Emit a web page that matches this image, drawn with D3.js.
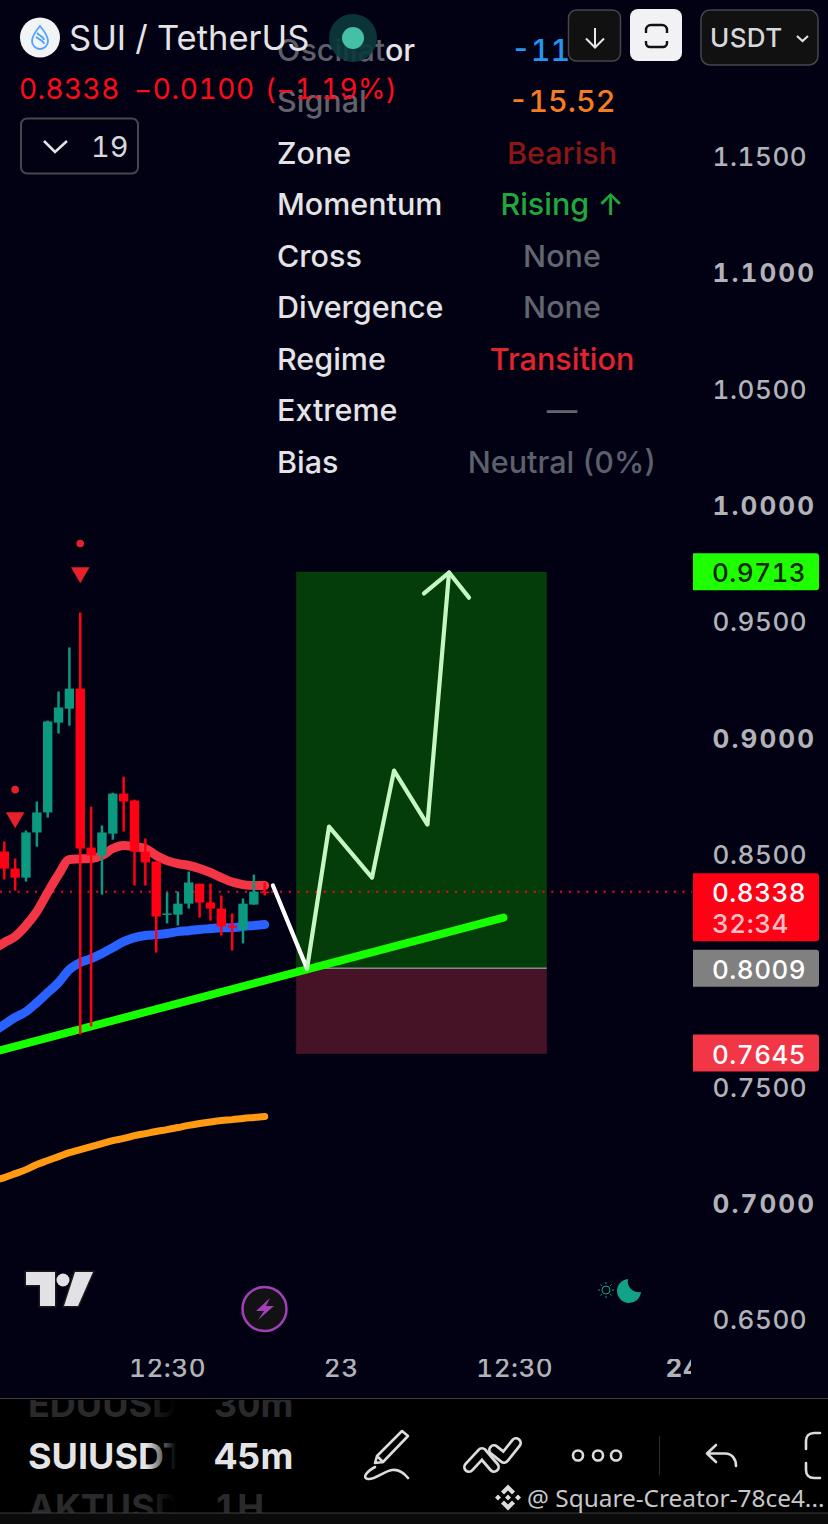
<!DOCTYPE html>
<html>
<head>
<meta charset="utf-8">
<script src="https://cdn.jsdelivr.net/npm/d3@7"></script>
<style>
	html,body{margin:0;padding:0;background:#020114;overflow:hidden}
	svg{display:block}
	text{font-family:Inter,"Noto Sans",sans-serif;font-variant-numeric:tabular-nums}
</style>
</head>
<body>
<div id="chart"></div>
<script>
// candles, 45m bars
const opens  = [.8511,.8438,.8399,.8593,.8679,.9065,.9125,.9211,.8528,.8494,.8588,.8760,.8730,.8511,.8468,.8240,.8240,.8287,.8373,.8292,.8266,.8193,.8176,.8283,.8339]
const highs  = [.8554,.8481,.8601,.8726,.9074,.9199,.9388,.9538,.8704,.8623,.8764,.8833,.8734,.8567,.8468,.8335,.8339,.8425,.8373,.8373,.8322,.8245,.8309,.8412,.8378]
const lows   = [.8391,.8343,.8382,.8532,.8657,.9018,.9052,.7725,.7759,.8326,.8562,.8597,.8365,.8365,.8077,.8202,.8193,.8266,.8227,.8214,.8150,.8086,.8116,.8283,.8322]
const closes = [.8438,.8399,.8593,.8679,.9070,.9130,.9211,.8524,.8494,.8593,.8760,.8726,.8511,.8464,.8232,.8245,.8287,.8378,.8292,.8266,.8189,.8184,.8287,.8339,.8338]

// moving averages, first value is the bar before the first candle
const emaRed    = [.8090,.8120,.8146,.8193,.8253,.8335,.8412,.8477,.8479,.8481,.8494,.8524,.8537,.8532,.8524,.8494,.8472,.8459,.8451,.8438,.8421,.8399,.8380,.8369,.8365,.8365]
const emaBlue   = [.7737,.7768,.7798,.7823,.7862,.7905,.7948,.8004,.8034,.8051,.8073,.8098,.8124,.8141,.8150,.8154,.8159,.8167,.8171,.8176,.8180,.8184,.8184,.8189,.8193,.8197]
const emaOrange = [.7097,.7110,.7127,.7144,.7166,.7183,.7200,.7217,.7230,.7243,.7256,.7269,.7278,.7290,.7299,.7308,.7316,.7325,.7334,.7342,.7349,.7355,.7359,.7364,.7368,.7372]

// trend line and long position drawing
const trendBars   = [-1,46]
const trendPrices = [.7649,.8227]
const boxBars = [26.9,50]
const targetPrice = .9713, entryPrice = .8009, stopPrice = .7645, lastPrice = .8338
const pathBars   = [27.9,29.93,33.89,35.92,39,40.99]
const pathPrices = [.8008,.8618,.8399,.8859,.8627,.9710]
const headBars   = [38.68,40.99,42.83]
const headPrices = [.9620,.9710,.9602]
const leadBars   = [24.76,27.9]
const leadPrices = [.8365,.8008]

// sell markers
const markerBars   = [7,1]
const markerTri    = [.9710,.8657]
const markerDot    = [.9835,.8777]

// axes
const priceTicks = [1.15,1.10,1.05,1.00,.95,.90,.85,.75,.70,.65]
const boldTicks  = [1.10,1.00,.90,.70]
const timeTicks  = [15,31,47,62.5]
const timeLabels = ["12:30","23","12:30","24"]

// indicator table
const rowNames  = ["Oscillator","Signal","Zone","Momentum","Cross","Divergence","Regime","Extreme","Bias"]
const rowValues = ["-11.","-15.52","Bearish","Rising ↑","None","None","Transition","—","Neutral (0%)"]
const rowColors = ["#2196f3","#f57c20","#8b1616","#1fa83c","#62666f","#62666f","#e3242e","#62666f","#5c606b"]

const W = 828, H = 1524
const svg = d3.select("#chart").append("svg").attr("width",W).attr("height",H)
const defs = svg.append("defs")

// SCALES _________________________
const x = d3.scaleLinear().domain([0,24]).range([4.3,264.7])
const y = d3.scaleLinear().domain([1.15,.65]).range([156,1319.5])

svg.append("rect").attr("width",W).attr("height",H).attr("fill","#020114")

// POSITION BOX _________________________
const boxX = x(boxBars[0]), boxW = x(boxBars[1]) - x(boxBars[0])
svg.append("rect").attr("x",boxX).attr("y",y(targetPrice)).attr("width",boxW)
	.attr("height",y(entryPrice)-y(targetPrice)).attr("fill","#053d0a")
svg.append("rect").attr("x",boxX).attr("y",y(entryPrice)).attr("width",boxW)
	.attr("height",y(stopPrice)-y(entryPrice)+.8).attr("fill","#461225")
svg.append("line").attr("x1",boxX).attr("x2",boxX+boxW).attr("y1",y(entryPrice)).attr("y2",y(entryPrice))
	.attr("stroke","#8a8a8a").attr("stroke-width",1.5)

// last price dots
svg.append("line").attr("x1",0).attr("x2",692).attr("y1",y(lastPrice)).attr("y2",y(lastPrice))
	.attr("stroke","#ff0015").attr("stroke-width",2).attr("stroke-dasharray","2 6.75")

// MOVING AVERAGES _________________________
const emaLine = d3.line().curve(d3.curveMonotoneX).x((d,i)=>x(i-1)).y(d=>y(d))
const drawEma = (vals,color,width)=>svg.append("path").attr("d",emaLine(vals)).attr("fill","none")
	.attr("stroke",color).attr("stroke-width",width).attr("stroke-linecap","round").attr("stroke-linejoin","round")
drawEma(emaOrange,"#ff9a12",7)
drawEma(emaBlue,"#2962ff",9)
drawEma(emaRed,"#f23645",9)

// trend line
svg.append("line").attr("x1",x(trendBars[0])).attr("x2",x(trendBars[1]))
	.attr("y1",y(trendPrices[0])).attr("y2",y(trendPrices[1]))
	.attr("stroke","#16ff00").attr("stroke-width",8).attr("stroke-linecap","round")

// CANDLES _________________________
const bars = opens.map((o,i)=>({i:i,o:o,h:highs[i],l:lows[i],c:closes[i]}))
const candleColor = d=>d.c>=d.o ? "#0b9a80" : "#ff0015"
const candles = svg.append("g")
candles.selectAll(".wick").data(bars).join("line").attr("class","wick")
	.attr("x1",d=>x(d.i)).attr("x2",d=>x(d.i)).attr("y1",d=>y(d.h)).attr("y2",d=>y(d.l))
	.attr("stroke",candleColor).attr("stroke-width",2.5)
candles.selectAll(".body").data(bars).join("rect").attr("class","body")
	.attr("x",d=>x(d.i)-4.7).attr("width",9.4)
	.attr("y",d=>y(Math.max(d.o,d.c)))
	.attr("height",d=>Math.max(1.5,Math.abs(y(d.o)-y(d.c))))
	.attr("fill",candleColor)

// markers
const tri = d3.symbol().type(d3.symbolTriangle).size(150)
markerBars.forEach((b,i)=>{
	svg.append("path").attr("d",tri()).attr("fill","#e8202c")
		.attr("transform",`translate(${x(b)},${y(markerTri[i])}) rotate(180)`)
	svg.append("circle").attr("cx",x(b)).attr("cy",y(markerDot[i])).attr("r",3.8).attr("fill","#e8202c")
})

// long arrow
const plain = d3.line().x(d=>x(d[0])).y(d=>y(d[1]))
const stroked = (pts,color)=>svg.append("path").attr("d",plain(pts)).attr("fill","none").attr("stroke",color)
	.attr("stroke-width",4.2).attr("stroke-linecap","round").attr("stroke-linejoin","round")
stroked(d3.zip(leadBars,leadPrices),"#ffffff")
stroked(d3.zip(pathBars,pathPrices),"#c6f7c2")
stroked(d3.zip(headBars,headPrices),"#c6f7c2")

// AXES _________________________
defs.append("clipPath").attr("id","timeClip").append("rect").attr("width",691).attr("height",H)

const priceAxis = d3.axisRight(y).tickValues(priceTicks).tickFormat(d3.format(".4f")).tickSize(0).tickPadding(0)
const priceG = svg.append("g").attr("transform","translate(712.5,1)").call(priceAxis)
priceG.select(".domain").remove()
priceG.selectAll("text").attr("font-size",26).attr("fill","#b2b3b8")
	.style("font-family","Inter")
	.attr("letter-spacing",d=>boldTicks.includes(d) ? "2.1" : ".6")
	.attr("font-weight",d=>boldTicks.includes(d) ? 700 : 500)

const timeAxis = d3.axisBottom(x).tickValues(timeTicks).tickFormat((d,i)=>timeLabels[i]).tickSize(0).tickPadding(0)
const timeG = svg.append("g").attr("transform","translate(0,1359)").attr("clip-path","url(#timeClip)").call(timeAxis)
timeG.select(".domain").remove()
timeG.selectAll("text").attr("font-size",26).attr("letter-spacing",".5").attr("fill","#b2b3b8")
	.style("font-family","Inter")
	.attr("font-weight",(d,i)=>i==3 ? 700 : 500)

// PRICE TAGS _________________________
const tag = (price,fill,color,h)=>{
	const top = y(price)-18.5
	svg.append("path").attr("d",`M693,${top}H816a3,3 0 0 1 3,3V${top+h-3}a3,3 0 0 1 -3,3H693Z`).attr("fill",fill)
	svg.append("text").attr("x",712).attr("y",top+29).attr("font-size",26).attr("font-weight",500).attr("letter-spacing",".5")
		.attr("fill",color).text(d3.format(".4f")(price))
}
tag(targetPrice,"#1eff00","#07260a",37)
tag(lastPrice,"#ff0015","#ffffff",68)
svg.append("text").attr("x",712).attr("y",y(lastPrice)+41).attr("font-size",26).attr("font-weight",500).attr("letter-spacing",".5")
	.attr("fill","#ffc0c5").text("32:34")
tag(entryPrice,"#808080","#ffffff",37)
tag(stopPrice,"#f23645","#ffffff",37)

// INDICATOR TABLE _________________________
const rowY = d3.scalePoint().domain(rowNames).range([60.5,472.5])
rowNames.forEach((name,i)=>{
	const t = svg.append("text").attr("x",277).attr("y",rowY(name)).attr("font-size",30.5).attr("font-weight",500).attr("fill","#e4e4e6")
	if(i==0){
		t.append("tspan").attr("fill","#5f5f69").text("Oscillat")
		t.append("tspan").text("or")
	} else if(i==1){
		t.attr("fill","#62626b").text(name)
	} else t.text(name)
	const v = svg.append("text").attr("y",rowY(name)).attr("font-size",30.5).attr("font-weight",500).attr("fill",rowColors[i]).text(rowValues[i])
	// the oscillator value runs under the button, so it is placed from its left edge
	if(i==0) v.attr("x",511)
	else v.attr("x",562).attr("text-anchor","middle")
})

// HEADER _________________________
svg.append("circle").attr("cx",353).attr("cy",38).attr("r",24).attr("fill","#0c3a3c").attr("fill-opacity",.9)
svg.append("circle").attr("cx",353).attr("cy",38).attr("r",11).attr("fill","#45bfa6")
svg.append("circle").attr("cx",40).attr("cy",37.5).attr("r",20).attr("fill","#f2f3f5")
svg.append("path").attr("d","M40,26C35,32 32,36 32,41a8,8 0 0 0 16,0C48,36 45,32 40,26ZM36,37C40,40 44,41 44,44M37,33C40,36 44,37 44,40")
	.attr("fill","none").attr("stroke","#4da2ff").attr("stroke-width",1.8)
svg.append("text").attr("x",69).attr("y",50).attr("font-size",34.5).attr("fill","#e4e4e6").text("SUI / TetherUS")
const quote = svg.append("text").attr("y",99).attr("font-size",28).attr("fill","#ff0a1c")
quote.append("tspan").attr("x",19).attr("letter-spacing",".4").text("0.8338")
quote.append("tspan").attr("x",134).attr("letter-spacing",".6").text("−0.0100")
quote.append("tspan").attr("x",265).attr("letter-spacing",".3").text("(−1.19%)")

svg.append("rect").attr("x",21).attr("y",118.5).attr("width",117).attr("height",55).attr("rx",6)
	.attr("fill","none").attr("stroke","#46464c").attr("stroke-width",2)
svg.append("path").attr("d","M44,141L55,152L67,141").attr("fill","none").attr("stroke","#e4e4e6").attr("stroke-width",2.5)
svg.append("text").attr("x",91).attr("y",157).attr("font-size",29).attr("fill","#d8d8da").text("19")

svg.append("rect").attr("x",568.5).attr("y",10).attr("width",52).attr("height",51).attr("rx",8)
	.attr("fill","#111112").attr("stroke","#46464c").attr("stroke-width",1.5)
svg.append("path").attr("d","M595,28V47M586,38.5L595,47.5L604,38.5").attr("fill","none").attr("stroke","#e8e8ea").attr("stroke-width",2)
svg.append("rect").attr("x",630).attr("y",9).attr("width",52).attr("height",52).attr("rx",8).attr("fill","#f2f2f4")
svg.append("path").attr("d","M646,33V30a5,5 0 0 1 5,-5H662a5,5 0 0 1 5,5V33M646,41V43a4,4 0 0 0 4,4H663a4,4 0 0 0 4,-4V41")
	.attr("fill","none").attr("stroke","#111").attr("stroke-width",2.4)
svg.append("rect").attr("x",701).attr("y",10).attr("width",117).attr("height",55).attr("rx",9)
	.attr("fill","#111112").attr("stroke","#46464c").attr("stroke-width",1.5)
svg.append("text").attr("x",710).attr("y",47).attr("font-size",26).attr("font-weight",500).attr("letter-spacing",".4").attr("fill","#d8d8da").text("USDT")
svg.append("path").attr("d","M797,36L802.5,41L808,36").attr("fill","none").attr("stroke","#e0e0e2").attr("stroke-width",2.2)

// LOGOS ON CHART _________________________
svg.append("g").attr("fill","#e2e2e4").attr("stroke","#1b1b1d").attr("stroke-width",3).attr("paint-order","stroke")
	.selectAll("path").data(["M26,1272H55V1306H40V1285H26Z","M75,1272H93L78,1306H64Z"]).join("path").attr("d",d=>d)
svg.append("circle").attr("cx",63).attr("cy",1280).attr("r",6.5).attr("fill","#e2e2e4")
svg.append("circle").attr("cx",264.5).attr("cy",1309).attr("r",22).attr("fill","#121214").attr("stroke","#a33fb8").attr("stroke-width",2.5)
svg.append("path").attr("d","M270,1298L256,1311H264L258,1320L274,1306H266Z").attr("fill","#a33fb8")
svg.append("circle").attr("cx",606).attr("cy",1290).attr("r",4).attr("fill","none").attr("stroke","#12a288").attr("stroke-width",1)
svg.append("path").attr("d","M598,1290H600M612,1290H614M606,1282V1284M606,1296V1298M600.5,1284.5L602,1286M610,1294L611.5,1295.5M600.5,1295.5L602,1294M610,1286L611.5,1284.5")
	.attr("stroke","#12a288").attr("stroke-width",1)
svg.append("path").attr("d","M628,1279A12,12 0 1 0 641,1292A11,11 0 0 1 628,1279Z").attr("fill","#12a288")

// BOTTOM BAR _________________________
svg.append("rect").attr("y",1398).attr("width",W).attr("height",H-1398).attr("fill","#000")
svg.append("line").attr("x1",0).attr("x2",W).attr("y1",1398.5).attr("y2",1398.5).attr("stroke","#3c3c44").attr("stroke-width",1)

defs.append("clipPath").attr("id","pickerClip").append("rect").attr("y",1400).attr("width",W).attr("height",113)
defs.append("clipPath").attr("id","symbolClip").append("rect").attr("y",1400).attr("width",176).attr("height",113)
const fade = (id,color)=>{
	const g = defs.append("linearGradient").attr("id",id).attr("gradientUnits","userSpaceOnUse")
		.attr("x1",146).attr("x2",176).attr("y1",0).attr("y2",0)
	g.append("stop").attr("offset",0).attr("stop-color",color)
	g.append("stop").attr("offset",1).attr("stop-color","#000")
}
fade("fadeMain","#e4e4e6")
fade("fadeDim","#2a2a2c")
const picker = svg.append("g").attr("clip-path","url(#pickerClip)").attr("font-weight",700).attr("font-size",36)
const symbols = svg.append("g").attr("clip-path","url(#symbolClip)").attr("font-weight",700).attr("font-size",36)
symbols.append("text").attr("x",28).attr("y",1417).attr("fill","url(#fadeDim)").text("EDUUSDT")
picker.append("text").attr("x",214).attr("y",1417).attr("fill","#2a2a2c").text("30m")
symbols.append("text").attr("x",28).attr("y",1469).attr("fill","url(#fadeMain)").text("SUIUSDT")
picker.append("text").attr("x",214).attr("y",1469).attr("fill","#e4e4e6").text("45m")
symbols.append("text").attr("x",28).attr("y",1520).attr("fill","url(#fadeDim)").text("AKTUSDT")
picker.append("text").attr("x",214).attr("y",1520).attr("fill","#2a2a2c").text("1H")

// toolbar icons
const icons = svg.append("g").attr("fill","none").attr("stroke","#dcdcde").attr("stroke-width",2.6)
	.attr("stroke-linecap","round").attr("stroke-linejoin","round")
icons.append("path").attr("d","M375,1463L377,1456L402,1431L408,1436L383,1462ZM377,1456L383,1462")
icons.append("path").attr("d","M375,1467C366,1472 362,1478 368,1479C375,1480 384,1471 392,1470C399,1469 404,1473 408,1478")
svg.append("path").attr("d","M469,1467L482,1453L494,1467").attr("fill","none").attr("stroke","#dcdcde").attr("stroke-width",12).attr("stroke-linejoin","round").attr("stroke-linecap","round")
svg.append("path").attr("d","M494,1450L504,1458L516,1443").attr("fill","none").attr("stroke","#dcdcde").attr("stroke-width",12).attr("stroke-linejoin","round").attr("stroke-linecap","round")
svg.append("path").attr("d","M469,1467L482,1453L494,1467").attr("fill","none").attr("stroke","#000").attr("stroke-width",6.5).attr("stroke-linejoin","round").attr("stroke-linecap","round")
svg.append("path").attr("d","M494,1450L504,1458L516,1443").attr("fill","none").attr("stroke","#000").attr("stroke-width",6.5).attr("stroke-linejoin","round").attr("stroke-linecap","round")
icons.selectAll("circle").data([578,598,616]).join("circle").attr("cx",d=>d).attr("cy",1455.5).attr("r",5)
svg.append("line").attr("x1",659.5).attr("x2",659.5).attr("y1",1436).attr("y2",1475).attr("stroke","#2e2e32").attr("stroke-width",1)
icons.append("path").attr("d","M716,1445L707,1453.5L716,1462M707,1453.5H725C732,1453.5 736,1459 736,1466")
icons.append("path").attr("d","M820,1433H814C809,1433 806,1436 806,1441V1449M806,1463V1470C806,1475 809,1478 814,1478H820")

// watermark
svg.append("rect").attr("y",1513).attr("width",W).attr("height",11).attr("fill","#0b0b0c")
svg.append("line").attr("x1",0).attr("x2",W).attr("y1",1513).attr("y2",1513).attr("stroke","#3c3c44").attr("stroke-width",1)
const wm = svg.append("g").attr("transform","translate(508,1497.5)").attr("fill","#dcdcde")
wm.append("path").attr("d","M0,-13L7,-6L4,-3L0,-7L-4,-3L-7,-6ZM0,13L7,6L4,3L0,7L-4,3L-7,6ZM-13,0L-10,-3L-7,0L-10,3ZM13,0L10,-3L7,0L10,3ZM0,-3L3,0L0,3L-3,0Z")
svg.append("text").attr("x",527).attr("y",1507).attr("font-size",24.4).style("font-family","'Noto Sans'").attr("fill","#c8c8ca").text("@ Square-Creator-78ce4...")
</script>
</body>
</html>
